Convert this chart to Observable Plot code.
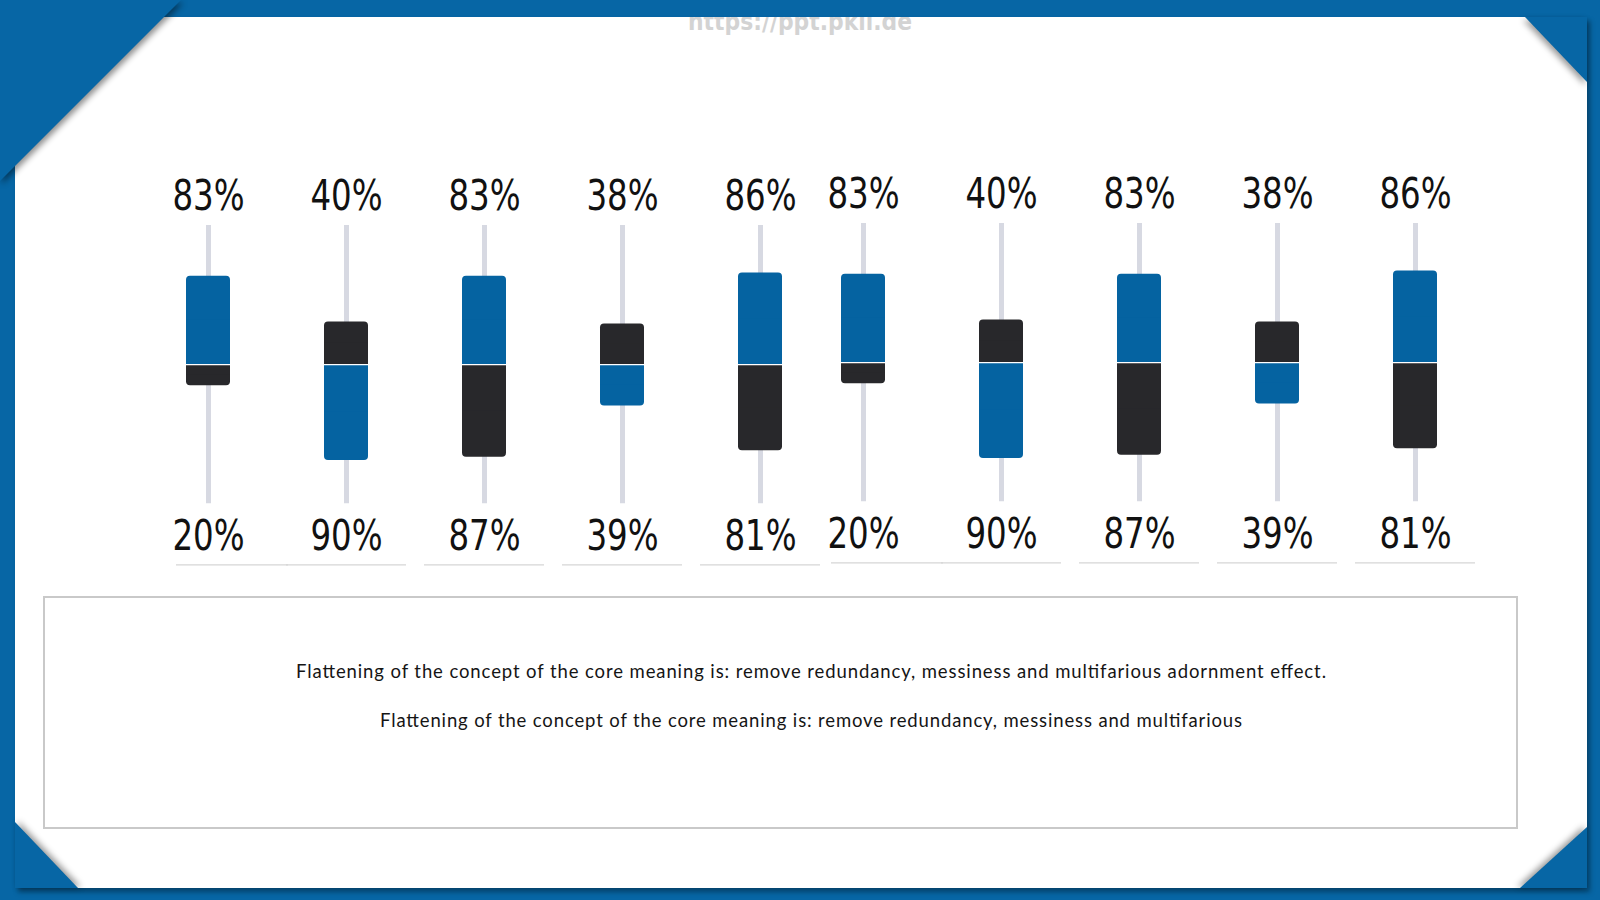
<!DOCTYPE html>
<html>
<head>
<meta charset="utf-8">
<script src="https://cdn.jsdelivr.net/npm/d3@7"></script>
<script src="https://cdn.jsdelivr.net/npm/@observablehq/plot@0.6"></script>
<style>
  html, body { margin: 0; padding: 0; }
  body { width: 1600px; height: 900px; position: relative; overflow: hidden; background: #0766a5; }
  #panel { position: absolute; left: 15px; top: 17px; width: 1572px; height: 871px; background: #fff;
           box-shadow: 3px 4px 5px rgba(0,0,0,0.35); overflow: hidden; }
  .triwrap { position: absolute; }
  .tri { width: 100%; height: 100%; background: #0766a5; }
  .chart { position: absolute; }
  #box { position: absolute; left: 43px; top: 596px; width: 1475px; height: 233px; box-sizing: border-box;
         border: 2px solid #c9c9c9; }
  #overlay { position: absolute; left: 0; top: 0; }
</style>
</head>
<body>
<div id="panel"></div>
<div id="box"></div>
<div id="g1" class="chart" style="left:138px; top:0px;"></div>
<div id="g2" class="chart" style="left:792.75px; top:-2.5px;"></div>
<svg id="overlay" width="1600" height="900"></svg>
<div class="triwrap" style="left:0;top:0;width:181px;height:181px;filter:drop-shadow(2px 3px 3px rgba(0,0,0,0.45));">
  <div class="tri" style="clip-path:polygon(0 0,100% 0,0 100%);"></div></div>
<div class="triwrap" style="left:1525px;top:17px;width:62px;height:65px;filter:drop-shadow(-2px 3px 3px rgba(0,0,0,0.4));">
  <div class="tri" style="clip-path:polygon(0 0,100% 0,100% 100%);"></div></div>
<div class="triwrap" style="left:15px;top:822px;width:63px;height:66px;filter:drop-shadow(3px -1px 3px rgba(0,0,0,0.4));">
  <div class="tri" style="clip-path:polygon(0 0,0 100%,100% 100%);"></div></div>
<div class="triwrap" style="left:1520px;top:827px;width:67px;height:61px;filter:drop-shadow(-3px -1px 3px rgba(0,0,0,0.4));">
  <div class="tri" style="clip-path:polygon(100% 0,100% 100%,0 100%);"></div></div>
<script>
// ---- data ----
const columns = ["c1", "c2", "c3", "c4", "c5"];
const topValues = [83, 40, 83, 38, 86];
const bottomValues = [20, 90, 87, 39, 81];
const groupIds = ["g1", "g2"];
const captionLines = [
  "Flattening of the concept of the core meaning is: remove redundancy, messiness and multifarious adornment effect.",
  "Flattening of the concept of the core meaning is: remove redundancy, messiness and multifarious"
];
const watermark = "https://ppt.pkil.de";

// ---- styles ----
const BLUE = "#0563a1";
const BLACK = "#28282b";
const WHISKER = "#d7d9e2";
const LABEL_FONT = "'DejaVu Sans Condensed', 'DejaVu Sans', sans-serif";
const LABEL_SQUEEZE = 0.84;
const yDomain = [-188, 170];

function groupChart() {
  const data = columns.map((c, i) => ({
    col: c, top: topValues[i], bottom: bottomValues[i],
    topFill: i % 2 === 0 ? BLUE : BLACK,
    bottomFill: i % 2 === 0 ? BLACK : BLUE
  }));
  const svg = Plot.plot({
    width: 692.5, height: 600,
    marginLeft: 0, marginRight: 0, marginTop: 183, marginBottom: 35.7,
    x: {type: "band", domain: columns, paddingInner: 0.6823, paddingOuter: 0.3412, axis: null},
    y: {domain: yDomain, axis: null},
    color: {type: "identity"},
    style: {background: "transparent", overflow: "visible"},
    marks: [
      Plot.ruleX(data, {x: "col", stroke: WHISKER, strokeWidth: 5, insetTop: 42, insetBottom: 61}),
      Plot.barY(data, {x: "col", y1: 0, y2: "top", fill: "topFill", rx: 4}),
      Plot.barY(data, {x: "col", y1: 0, y2: d => d.top / 2, fill: "topFill"}),
      Plot.barY(data, {x: "col", y1: 0, y2: d => -d.bottom, fill: "bottomFill", rx: 4}),
      Plot.barY(data, {x: "col", y1: 0, y2: d => -d.bottom / 2, fill: "bottomFill"}),
      Plot.tickY(data, {x: "col", y: 0, stroke: "#ffffff", strokeWidth: 1.3}),
      Plot.text(data, {x: "col", text: d => d.top + "%", frameAnchor: "top", dy: 13, lineAnchor: "middle",
        fontSize: 43, fill: "#111", fontFamily: LABEL_FONT}),
      Plot.text(data, {x: "col", text: d => d.bottom + "%", frameAnchor: "bottom", dy: -29, lineAnchor: "middle",
        fontSize: 43, fill: "#111", fontFamily: LABEL_FONT}),
      Plot.tickY(data.slice(0, 1), {x: "col", y: yDomain[0], stroke: "#d6d6d6", strokeWidth: 1.2, insetLeft: -10, insetRight: -58}),
      Plot.tickY(data.slice(1), {x: "col", y: yDomain[0], stroke: "#d6d6d6", strokeWidth: 1.2, insetLeft: -38, insetRight: -38})
    ]
  });
  // condense the percentage labels horizontally (narrow face not installed)
  svg.querySelectorAll("text").forEach(t => {
    const x = +t.getAttribute("x") || 0, y = +t.getAttribute("y") || 0;
    const tr = t.getAttribute("transform") || "";
    t.setAttribute("transform", `${tr} translate(${x},${y}) scale(${LABEL_SQUEEZE},1) translate(${-x},${-y})`);
  });
  return svg;
}

groupIds.forEach(id => document.getElementById(id).appendChild(groupChart()));

// caption & watermark
const ov = d3.select("#overlay");
const captionY = [678, 727];
const captionW = [1030, 862];
captionLines.forEach((t, i) => {
  ov.append("text").attr("x", 811).attr("y", captionY[i]).attr("text-anchor", "middle")
    .attr("font-family", "Lato, 'Open Sans', sans-serif").attr("font-size", 18.5).attr("fill", "#151515")
    .attr("textLength", captionW[i]).attr("lengthAdjust", "spacing").text(t);
});
const wm = ov.append("g").attr("clip-path", "url(#wmclip)");
ov.append("defs").append("clipPath").attr("id", "wmclip").append("rect").attr("x", 0).attr("y", 17).attr("width", 1600).attr("height", 40);
wm.append("text").attr("x", 688).attr("y", 30).attr("font-family", "'DejaVu Sans', sans-serif").attr("font-weight", "bold")
  .attr("font-size", 25).attr("fill", "#d3d3d3").attr("textLength", 224).attr("lengthAdjust", "spacingAndGlyphs").text(watermark);
</script>
</body>
</html>
